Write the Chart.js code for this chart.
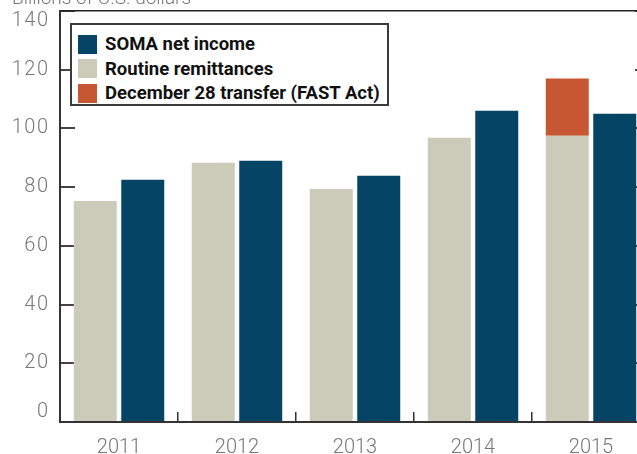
<!DOCTYPE html>
<html>
<head>
<meta charset="utf-8">
<script src="https://cdn.jsdelivr.net/npm/chart.js@4"></script>
<style>
  html, body { margin: 0; padding: 0; background: #fff; overflow: hidden; width: 637px; height: 454px; }
  #wrap { position: relative; width: 637px; height: 454px; overflow: hidden; }
  #myChart { position: absolute; left: 0; top: 0; }
  #unidade { position: absolute; left: 12px; top: -12px; font: 300 19px/19px Roboto, sans-serif; color: #777; white-space: nowrap; }
  #legenda { position: absolute; left: 70px; top: 23px; width: 319px; height: 83px; box-sizing: border-box;
             border: 2px solid #3a3a3a; background: #fff; padding-top: 7px; padding-left: 6px; }
  .item { height: 24.5px; display: flex; align-items: center; font: 700 18.5px Roboto, sans-serif; color: #111; white-space: nowrap; }
  .item span.cor { display: inline-block; width: 19px; height: 19px; margin-right: 8px; flex: none; }
</style>
</head>
<body>
<div id="wrap">
  <canvas id="myChart" width="660" height="454"></canvas>
  <div id="unidade">Billions of U.S. dollars</div>
  <div id="legenda"></div>
</div>
<script>
// Dados (bilhões de dólares)
const anos = ['2011', '2012', '2013', '2014', '2015'];
const somaNetIncome = [82.5, 89.0, 83.9, 106.0, 105.0];
const routineRemittances = [75.3, 88.3, 79.4, 96.8, 97.5];
const fastActTransfer = [null, null, null, null, 19.5];
const yTicks = [0, 20, 40, 60, 80, 100, 120, 140];

const corSoma = '#064466';
const corRotina = '#cacbb9';
const corFast = '#c75633';

document.addEventListener('DOMContentLoaded', function() {
    const ctx = document.getElementById('myChart').getContext('2d');

    // rótulos do eixo y desenhados a partir da escala (0 e 140 ficam dentro da área)
    const rotulosY = {
        id: 'rotulosY',
        afterDraw(chart) {
            const s = chart.scales.y;
            const c = chart.ctx;
            c.save();
            c.font = '300 20px Roboto';
            c.letterSpacing = '1.5px';
            c.fillStyle = '#777';
            c.textAlign = 'right';
            c.textBaseline = 'middle';
            yTicks.forEach(v => {
                let y = s.getPixelForValue(v);
                y = Math.min(Math.max(y, s.top + 9.5), s.bottom - 10);
                c.fillText(String(v), s.right - 10.5, y);
            });
            c.restore();
        }
    };

    const myChart = new Chart(ctx, {
        type: 'bar',
        data: {
            labels: anos,
            datasets: [
                { label: 'Routine remittances', data: routineRemittances, backgroundColor: corRotina, stack: 'remessas' },
                { label: 'December 28 transfer (FAST Act)', data: fastActTransfer, backgroundColor: corFast, stack: 'remessas' },
                { label: 'SOMA net income', data: somaNetIncome, backgroundColor: corSoma, stack: 'soma' }
            ]
        },
        options: {
            responsive: false,
            animation: false,
            categoryPercentage: 0.805,
            barPercentage: 0.905,
            layout: { padding: { top: 11, left: 0, right: 0, bottom: 0 } },
            scales: {
                x: {
                    stacked: true,
                    offset: true,
                    grid: { offset: true, drawOnChartArea: false, tickLength: -10, color: '#333', lineWidth: 1.5 },
                    border: { display: true, color: '#333', width: 2 },
                    ticks: { font: { family: 'Roboto', size: 20, weight: '300' }, color: '#777', padding: 24, maxRotation: 0 },
                    afterFit: (scale) => { scale.height = 32; }
                },
                xTopo: {
                    type: 'category',
                    position: 'top',
                    offset: true,
                    grid: { display: false },
                    border: { display: true, color: '#222', width: 1.5 },
                    ticks: { display: false },
                    afterFit: (scale) => { scale.height = 0; }
                },
                y: {
                    stacked: true,
                    min: 0,
                    max: 140,
                    ticks: { stepSize: 20, display: false },
                    grid: { drawOnChartArea: false, tickLength: -15, color: '#444', lineWidth: 2 },
                    border: { display: true, color: '#333', width: 2 },
                    afterFit: (scale) => { scale.width = 60; }
                },
                yDir: {
                    position: 'right',
                    min: 0,
                    max: 140,
                    ticks: { stepSize: 20, display: false },
                    grid: { drawOnChartArea: false, tickLength: -15, color: '#444', lineWidth: 2 },
                    border: { display: true, color: '#333', width: 2 },
                    afterFit: (scale) => { scale.width = 10; }
                }
            },
            plugins: {
                legend: { display: false },
                tooltip: { enabled: false }
            }
        },
        plugins: [rotulosY]
    });

    // legenda em HTML, na ordem do original
    const legenda = document.getElementById('legenda');
    [2, 0, 1].forEach(i => {
        const ds = myChart.data.datasets[i];
        const item = document.createElement('div');
        item.className = 'item';
        const cor = document.createElement('span');
        cor.className = 'cor';
        cor.style.background = ds.backgroundColor;
        item.appendChild(cor);
        item.appendChild(document.createTextNode(ds.label));
        legenda.appendChild(item);
    });
});
</script>
</body>
</html>
